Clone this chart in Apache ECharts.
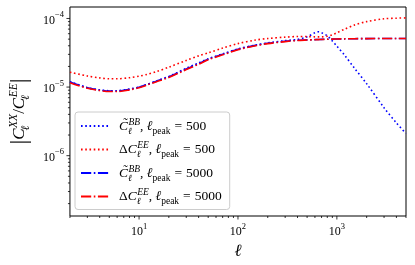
<!DOCTYPE html>
<html>
<head>
<meta charset="utf-8">
<script src="https://cdn.jsdelivr.net/npm/echarts@6/dist/echarts.min.js"></script>
<style>html,body{margin:0;padding:0;background:#fff;}#c{width:415px;height:265px;}</style>
</head>
<body>
<div id="c"></div>
<script>
// ---- data ----
const ell = [2, 3, 4, 5, 6, 8, 10, 12, 15, 20, 30, 40, 50, 70, 100, 150, 200, 300, 400, 500, 600, 650, 700, 800, 900, 1000, 1200, 1500, 2000, 3000, 4000, 5000];
const bb500 = [1.2e-5, 9.8e-6, 9.1e-6, 8.85e-6, 8.85e-6, 9.4e-6, 1.0e-5, 1.09e-5, 1.23e-5, 1.43e-5, 1.88e-5, 2.25e-5, 2.58e-5, 3.05e-5, 3.6e-5, 4.1e-5, 4.4e-5, 4.75e-5, 4.95e-5, 5.4e-5, 6.2e-5, 6.4e-5, 6.2e-5, 5.6e-5, 4.7e-5, 3.95e-5, 2.9e-5, 1.9e-5, 1.12e-5, 5.0e-6, 3.0e-6, 2.1e-6];
const ee500 = [1.65e-5, 1.45e-5, 1.36e-5, 1.32e-5, 1.32e-5, 1.37e-5, 1.44e-5, 1.53e-5, 1.68e-5, 1.95e-5, 2.45e-5, 2.85e-5, 3.15e-5, 3.7e-5, 4.3e-5, 4.85e-5, 5.1e-5, 5.35e-5, 5.45e-5, 5.45e-5, 5.4e-5, 5.4e-5, 5.4e-5, 5.5e-5, 5.8e-5, 6.2e-5, 7.0e-5, 8.0e-5, 9.0e-5, 9.9e-5, 1.01e-4, 1.02e-4];
const bb5000 = [1.19e-5, 9.8e-6, 9.05e-6, 8.75e-6, 8.75e-6, 9.3e-6, 9.95e-6, 1.09e-5, 1.22e-5, 1.41e-5, 1.84e-5, 2.2e-5, 2.55e-5, 3.0e-5, 3.55e-5, 4.05e-5, 4.35e-5, 4.65e-5, 4.82e-5, 4.88e-5, 4.92e-5, 4.94e-5, 4.96e-5, 4.98e-5, 5.0e-5, 5.02e-5, 5.05e-5, 5.07e-5, 5.09e-5, 5.1e-5, 5.1e-5, 5.1e-5];
const ee5000 = [1.16e-5, 9.6e-6, 8.9e-6, 8.6e-6, 8.6e-6, 9.1e-6, 9.8e-6, 1.07e-5, 1.2e-5, 1.38e-5, 1.8e-5, 2.15e-5, 2.5e-5, 2.95e-5, 3.5e-5, 4.0e-5, 4.3e-5, 4.6e-5, 4.78e-5, 4.85e-5, 4.9e-5, 4.92e-5, 4.94e-5, 4.97e-5, 5.0e-5, 5.02e-5, 5.05e-5, 5.07e-5, 5.09e-5, 5.1e-5, 5.1e-5, 5.1e-5];
const xMajorTicks = [10, 100, 1000];
const xMinorTicks = [2,3,4,5,6,7,8,9,20,30,40,50,60,70,80,90,200,300,400,500,600,700,800,900,2000,3000,4000,5000];
const yMajorTicks = [1e-6, 1e-5, 1e-4];
const yMinorTicks = [2e-7,3e-7,4e-7,5e-7,6e-7,7e-7,8e-7,9e-7,2e-6,3e-6,4e-6,5e-6,6e-6,7e-6,8e-6,9e-6,2e-5,3e-5,4e-5,5e-5,6e-5,7e-5,8e-5,9e-5];
const xMin = 2, xMax = 5000, yMin = 1.32e-7, yMax = 1.47e-4;

const FF = '"Liberation Serif", "DejaVu Serif", serif';
const zip = (a, b) => a.map((v, i) => [v, b[i]]);

const dotted = [1.6, 2.64];
const dashdot = [10.2, 2.56, 1.6, 2.56];

const legendText = {
  bb500: '{it|C\u0303}{sbl|ℓ}{sup|BB}{n|,}{it| ℓ}{sub|peak}{eq|=}{n|500}',
  ee500: '{n|Δ}{it|C}{sbl|ℓ}{sup|EE}{n|,}{it| ℓ}{sub|peak}{eq|=}{n|500}',
  bb5000: '{it|C\u0303}{sbl|ℓ}{sup|BB}{n|,}{it| ℓ}{sub|peak}{eq|=}{n|5000}',
  ee5000: '{n|Δ}{it|C}{sbl|ℓ}{sup|EE}{n|,}{it| ℓ}{sub|peak}{eq|=}{n|5000}'
};

function isPow10(v) { const l = Math.log10(v); return Math.abs(l - Math.round(l)) < 1e-6; }
function powLabel(v) {
  if (!isPow10(v)) return '';
  const e = Math.round(Math.log10(v));
  return '{b|10}{s|' + (e < 0 ? '\u2212' + (-e) : e) + '}';
}
const tickRich = {
  b: { fontFamily: FF, fontSize: 12, color: '#000', lineHeight: 16, verticalAlign: 'bottom' },
  s: { fontFamily: FF, fontSize: 8.5, color: '#000', lineHeight: 16, verticalAlign: 'top' }
};

function tickSeries(data, horizontal) {
  return {
    type: 'custom', coordinateSystem: 'cartesian2d', silent: true, clip: false, z: 10,
    data: data,
    renderItem: function (params, api) {
      const p = api.coord([api.value(0), api.value(1)]);
      const len = api.value(2) ? 3.5 : 2;
      const shape = horizontal
        ? { x1: p[0], y1: p[1], x2: p[0], y2: p[1] + len }
        : { x1: p[0], y1: p[1], x2: p[0] - len, y2: p[1] };
      return { type: 'line', shape: shape, style: { stroke: '#000', lineWidth: 0.8 } };
    }
  };
}

const xTickData = xMajorTicks.map(v => [v, yMin, 1]).concat(xMinorTicks.map(v => [v, yMin, 0]));
const yTickData = yMajorTicks.map(v => [xMin, v, 1]).concat(yMinorTicks.map(v => [xMin, v, 0]));

const chart = echarts.init(document.getElementById('c'), null, { renderer: 'canvas' });
const LF = 13.5;
const legRich = {
  it: { fontFamily: FF, fontStyle: 'italic', fontSize: LF, color: '#000', lineHeight: 20 },
  n: { fontFamily: FF, fontSize: LF, color: '#000', lineHeight: 20 },
  eq: { fontFamily: FF, fontSize: LF, color: '#000', lineHeight: 20, padding: [0, 4, 0, 4] },
  sup: { fontFamily: FF, fontStyle: 'italic', fontSize: 9.5, color: '#000', lineHeight: 20, verticalAlign: 'top', padding: [1, 0, 0, 0] },
  sbl: { fontFamily: FF, fontStyle: 'italic', fontSize: 9.5, color: '#000', lineHeight: 20, verticalAlign: 'bottom', width: 0.5 },
  sub: { fontFamily: FF, fontSize: 9.5, color: '#000', lineHeight: 20, verticalAlign: 'bottom' }
};

chart.setOption({
  animation: false,
  backgroundColor: '#fff',
  grid: { left: 68, right: 9, top: 7, bottom: 49, show: true, borderColor: '#000', borderWidth: 1, backgroundColor: 'transparent' },
  xAxis: {
    type: 'log', logBase: 10, min: xMin, max: xMax,
    axisLine: { show: false }, axisTick: { show: false }, splitLine: { show: false },
    axisLabel: { formatter: powLabel, rich: tickRich, margin: 6, showMinLabel: false, showMaxLabel: false },
    name: 'ℓ', nameLocation: 'middle', nameGap: 22,
    nameTextStyle: { fontFamily: FF, fontStyle: 'italic', fontSize: 17, color: '#000' }
  },
  yAxis: {
    type: 'log', logBase: 10, min: yMin, max: yMax,
    axisLine: { show: false }, axisTick: { show: false }, splitLine: { show: false },
    axisLabel: { formatter: powLabel, rich: tickRich, margin: 6, showMinLabel: false, showMaxLabel: false },
    name: '{bar||}{it|C}{sbl|ℓ}{sup|XX}{n|/}{it|C}{sbl|ℓ}{sup|EE}{bar||}',
    nameLocation: 'middle', nameGap: 32, nameRotate: 90,
    nameTextStyle: {
      rich: {
        bar: { fontFamily: FF, fontSize: 24, color: '#000', lineHeight: 24 },
        it: { fontFamily: FF, fontStyle: 'italic', fontSize: 17, color: '#000', lineHeight: 24 },
        n: { fontFamily: FF, fontSize: 17, color: '#000', lineHeight: 24 },
        sup: { fontFamily: FF, fontStyle: 'italic', fontSize: 11.5, color: '#000', lineHeight: 24, verticalAlign: 'top' },
        sbl: { fontFamily: FF, fontStyle: 'italic', fontSize: 11.5, color: '#000', lineHeight: 24, verticalAlign: 'bottom', width: 0.5 }
      }
    }
  },
  legend: {
    orient: 'vertical', left: 75, top: 112,
    data: ['bb500', 'ee500', 'bb5000', 'ee5000'],
    itemWidth: 28, itemHeight: 10, itemGap: 3.5,
    padding: [4, 8, 3, 5],
    backgroundColor: 'rgba(255,255,255,0.8)', borderColor: '#cccccc', borderWidth: 1, borderRadius: 3,
    itemStyle: { color: 'rgba(0,0,0,0)', borderWidth: 0, opacity: 0 },
    formatter: name => legendText[name],
    textStyle: { rich: legRich, padding: [0, 0, 0, 5] }
  },
  series: [
    { name: 'bb500', type: 'line', data: zip(ell, bb500), smooth: 0.3, symbol: 'none', z: 2,
      lineStyle: { color: '#0000ff', width: 1.6, type: dotted }, itemStyle: { color: '#0000ff' } },
    { name: 'ee500', type: 'line', data: zip(ell, ee500), smooth: 0.3, symbol: 'none', z: 2,
      lineStyle: { color: '#ff0000', width: 1.6, type: dotted }, itemStyle: { color: '#ff0000' } },
    { name: 'bb5000', type: 'line', data: zip(ell, bb5000), smooth: 0.3, symbol: 'none', z: 2,
      lineStyle: { color: '#0000ff', width: 1.6, type: dashdot }, itemStyle: { color: '#0000ff' } },
    { name: 'ee5000', type: 'line', data: zip(ell, ee5000), smooth: 0.3, symbol: 'none', z: 2,
      lineStyle: { color: '#ff0000', width: 1.6, type: dashdot }, itemStyle: { color: '#ff0000' } },
    tickSeries(xTickData, true),
    tickSeries(yTickData, false)
  ]
});
</script>
</body>
</html>
